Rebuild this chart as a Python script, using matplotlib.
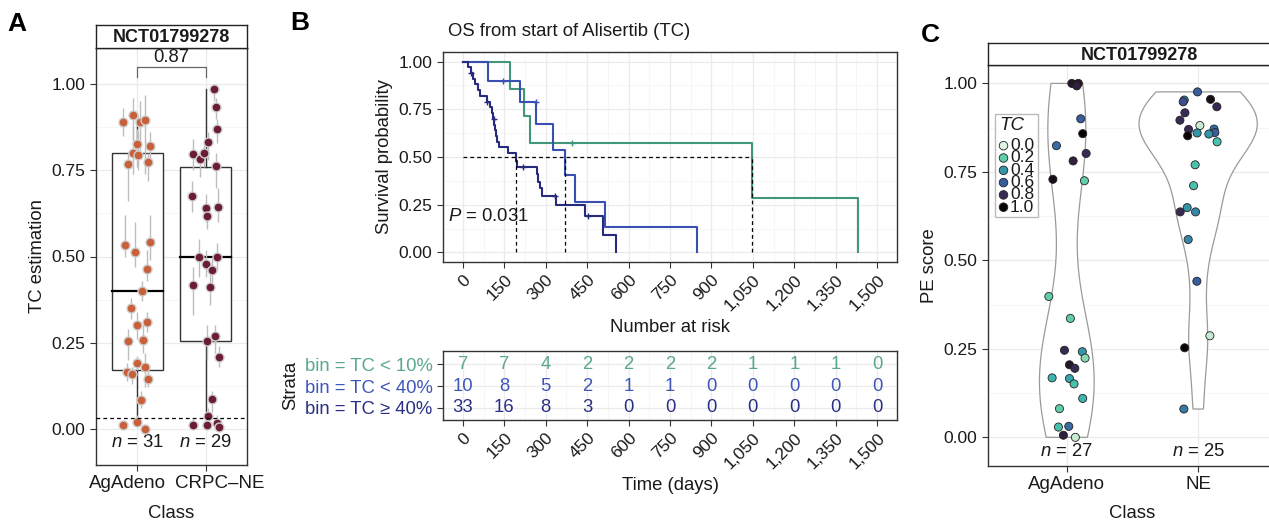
import numpy as np
import matplotlib
matplotlib.use('Agg')
import matplotlib.pyplot as plt
import matplotlib.transforms as mtransforms
import seaborn as sns
from matplotlib.patches import Rectangle

plt.rcParams['font.family'] = ['Liberation Sans', 'DejaVu Sans']
plt.rcParams['mathtext.fontset'] = 'custom'
plt.rcParams['mathtext.it'] = 'Liberation Sans:italic'
plt.rcParams['mathtext.rm'] = 'Liberation Sans'

# ---------------- panel A data ----------------
classes_a = ['AgAdeno', 'CRPC\u2013NE']
n_a = [31, 29]
ag_x = [0.797, 0.942, 1.043, 1.116, 1.0, 1.188, 0.942, 1.014, 1.159, 0.870,
        0.826, 0.971, 1.188, 1.145, 1.072, 0.913, 1.0, 1.145, 0.870, 1.087,
        1.0, 0.855, 0.928, 1.116, 1.159, 1.058, 1.0, 0.797, 1.116]
ag_y = [0.89, 0.911, 0.89, 0.897, 0.825, 0.82, 0.80, 0.794, 0.774, 0.767,
        0.532, 0.513, 0.542, 0.463, 0.40, 0.351, 0.30, 0.311, 0.256, 0.258,
        0.19, 0.166, 0.159, 0.178, 0.145, 0.084, 0.021, 0.012, 0.0]
ag_lo = [0.85, 0.84, 0.80, 0.74, 0.76, 0.78, 0.74, 0.75, 0.72, 0.66,
         0.50, 0.47, 0.49, 0.43, 0.37, 0.32, 0.26, 0.28, 0.20, 0.22,
         0.17, 0.14, 0.13, 0.12, 0.12, 0.06, 0.01, 0.0, 0.0]
ag_hi = [0.93, 0.96, 0.95, 0.97, 0.87, 0.86, 0.88, 0.86, 0.80, 0.80,
         0.62, 0.60, 0.62, 0.52, 0.43, 0.38, 0.34, 0.34, 0.29, 0.30,
         0.21, 0.19, 0.18, 0.22, 0.17, 0.11, 0.04, 0.02, 0.01]
ne_x = [2.116, 2.145, 2.159, 2.029, 1.812, 1.913, 1.971, 2.145, 1.797, 2.0,
        2.174, 2.014, 1.899, 2.159, 2.0, 2.087, 1.812, 2.058, 2.014, 2.130,
        2.188, 2.087, 2.029, 1.812, 2.014, 2.159, 2.188]
ne_y = [0.987, 0.935, 0.869, 0.832, 0.798, 0.782, 0.80, 0.762, 0.677, 0.642,
        0.644, 0.617, 0.50, 0.50, 0.478, 0.46, 0.417, 0.412, 0.255, 0.268,
        0.209, 0.087, 0.036, 0.01, 0.01, 0.018, 0.005]
ne_lo = [0.95, 0.90, 0.83, 0.78, 0.75, 0.73, 0.76, 0.70, 0.63, 0.60,
         0.60, 0.58, 0.44, 0.46, 0.44, 0.40, 0.33, 0.36, 0.20, 0.22,
         0.18, 0.05, 0.02, 0.0, 0.0, 0.0, 0.0]
ne_hi = [1.0, 0.96, 0.90, 0.86, 0.84, 0.81, 0.83, 0.80, 0.72, 0.68,
         0.70, 0.64, 0.55, 0.54, 0.52, 0.50, 0.47, 0.45, 0.30, 0.30,
         0.24, 0.11, 0.06, 0.03, 0.03, 0.04, 0.02]
box_q1 = [0.17, 0.255]
box_med = [0.40, 0.50]
box_q3 = [0.80, 0.76]
box_wlo = [0.02, 0.03]
box_whi = [0.91, 0.987]
p_value_a = '0.87'
cutoff_a = 0.03

# ---------------- panel B data ----------------
strata = ['bin = TC < 10%', 'bin = TC < 40%', 'bin = TC \u2265 40%']
km_t = [
    [0, 172, 220, 243, 1048, 1430],
    [0, 91, 206, 265, 327, 368, 406, 514, 847],
    [0, 19, 28, 35, 43.5, 53, 62, 86, 98, 104, 110, 113.5, 116, 119.6, 124.4,
     131.6, 164, 192, 197, 267, 273, 279, 285, 337, 442, 508, 553],
]
km_s = [
    [1.0, 0.857, 0.714, 0.571, 0.286, 0.0],
    [1.0, 0.90, 0.787, 0.674, 0.538, 0.408, 0.265, 0.133, 0.0],
    [1.0, 0.97, 0.94, 0.91, 0.88, 0.85, 0.82, 0.79, 0.76, 0.73, 0.70, 0.67,
     0.64, 0.61, 0.58, 0.55, 0.52, 0.48, 0.447, 0.41, 0.37, 0.335, 0.298,
     0.246, 0.19, 0.092, 0.0],
]
cens_t = [[396], [146, 263], [31, 86, 112, 216, 333, 454]]
risk_times = [0, 150, 300, 450, 600, 750, 900, 1050, 1200, 1350, 1500]
risk_n = [
    [7, 7, 4, 2, 2, 2, 2, 1, 1, 1, 0],
    [10, 8, 5, 2, 1, 1, 0, 0, 0, 0, 0],
    [33, 16, 8, 3, 0, 0, 0, 0, 0, 0, 0],
]
time_labels = ['0', '150', '300', '450', '600', '750', '900', '1,050', '1,200', '1,350', '1,500']
p_value_b = '0.031'

# ---------------- panel C data ----------------
classes_c = ['AgAdeno', 'NE']
n_c = [27, 25]
c_ag_x = [1.038, 1.071, 1.088, 1.076, 1.106, 1.121, 0.921, 1.147, 1.048, 0.894,
          1.134, 0.863, 1.027, 0.982, 1.118, 1.139, 1.020, 1.061, 0.888, 1.020,
          1.055, 1.121, 0.944, 0.936, 1.015, 0.974, 1.065]
c_ag_y = [1.0, 0.997, 1.0, 0.993, 0.90, 0.858, 0.824, 0.802, 0.781, 0.729,
          0.725, 0.398, 0.336, 0.246, 0.242, 0.224, 0.205, 0.195, 0.168, 0.166,
          0.151, 0.110, 0.081, 0.029, 0.031, 0.006, 0.0]
c_ag_tc = [0.9, 1.0, 0.9, 0.85, 0.6, 1.0, 0.55, 0.8, 0.85, 0.95,
           0.2, 0.2, 0.2, 0.8, 0.4, 0.15, 0.9, 0.8, 0.3, 0.35,
           0.25, 0.3, 0.2, 0.25, 0.55, 0.85, 0.05]
c_ne_x = [1.995, 1.894, 1.886, 2.094, 2.142, 1.899, 1.861, 2.013, 1.927, 2.121,
          2.127, 1.992, 2.081, 1.920, 2.144, 1.977, 1.965, 1.916, 1.863, 1.980,
          1.924, 1.990, 2.089, 1.897, 1.891]
c_ne_y = [0.976, 0.953, 0.948, 0.955, 0.934, 0.917, 0.896, 0.881, 0.87, 0.871,
          0.861, 0.86, 0.857, 0.852, 0.835, 0.77, 0.711, 0.649, 0.637, 0.637,
          0.559, 0.441, 0.287, 0.253, 0.08]
c_ne_tc = [0.6, 0.45, 0.65, 0.95, 0.8, 0.8, 0.8, 0.05, 0.8, 0.55,
           0.6, 0.4, 0.4, 1.0, 0.25, 0.25, 0.25, 0.4, 0.8, 0.45,
           0.45, 0.6, 0.05, 1.0, 0.5]
tc_levels = [0.0, 0.2, 0.4, 0.6, 0.8, 1.0]

W, H = 1269, 523
fig = plt.figure(figsize=(W / 100, H / 100), dpi=100)


def rect(l, t, r, b):
    return [l / W, 1 - b / H, (r - l) / W, (b - t) / H]


def px(x, y):
    return x / W, 1 - y / H


FS = 13.3      # titles / annotations
TICK = 12.5    # numeric tick labels
CAT = 13.5     # category tick labels
TXT = '#1a1a1a'
GRID = '#ebebeb'
GRID2 = '#f5f5f5'
green, blue, navy = '#40977a', '#3a4fb2', '#262b7e'
km_cols = [green, blue, navy]
risk_cols = ['#5aa88a', '#3e56b8', '#2a2f86']


def style_axes(ax):
    for s in ax.spines.values():
        s.set_color('#333333')
        s.set_linewidth(1.0)
    ax.tick_params(labelsize=TICK, colors='#333333', labelcolor=TXT, length=4, width=0.8)


def shift_labels(ax, offsets_px):
    for lab, dx in zip(ax.get_xticklabels(), offsets_px):
        lab.set_transform(lab.get_transform() +
                          mtransforms.ScaledTranslation(dx / 100, 0, fig.dpi_scale_trans))


def strip(l, t, r, b, label):
    s = fig.add_axes(rect(l, t, r, b))
    s.set_xticks([])
    s.set_yticks([])
    for sp in s.spines.values():
        sp.set_color('#222222')
        sp.set_linewidth(1.0)
    s.text(0.5, 0.45, label, ha='center', va='center', fontsize=13,
           fontweight='bold', transform=s.transAxes, color=TXT)
    return s


# ================= panel A =================
axA = fig.add_axes(rect(96, 48, 247, 465))
axA.set_xlim(0.4, 2.6)
axA.set_ylim(-0.105, 1.105)
for v in [0.125, 0.375, 0.625, 0.875]:
    axA.axhline(v, color=GRID2, lw=0.6, zorder=0)
for v in [0, 0.25, 0.5, 0.75, 1.0]:
    axA.axhline(v, color=GRID, lw=0.9, zorder=0)
for v in [1, 2]:
    axA.axvline(v, color=GRID, lw=0.9, zorder=0)

for i in range(2):
    c = i + 1
    axA.add_patch(Rectangle((c - 0.37, box_q1[i]), 0.74, box_q3[i] - box_q1[i],
                            facecolor='white', edgecolor='#333333', lw=1.0, zorder=1))
    axA.plot([c - 0.37, c + 0.37], [box_med[i], box_med[i]], color='black', lw=1.6, zorder=2)
    axA.plot([c, c], [box_q1[i], box_wlo[i]], color='#333333', lw=1.0, zorder=1)
    axA.plot([c, c], [box_q3[i], box_whi[i]], color='#333333', lw=1.0, zorder=1)

axA.vlines(ag_x, ag_lo, ag_hi, color='#bdbdbd', lw=1.0, zorder=3)
axA.vlines(ne_x, ne_lo, ne_hi, color='#bdbdbd', lw=1.0, zorder=3)
axA.scatter(ag_x, ag_y, s=42, color='#c8613a', edgecolor='#cfcfcf', lw=1.0, zorder=4)
axA.scatter(ne_x, ne_y, s=42, color='#6b1d33', edgecolor='#cfcfcf', lw=1.0, zorder=4)
axA.axhline(cutoff_a, color='black', ls=(0, (3, 2.5)), lw=0.9, zorder=5)

axA.plot([1, 1, 2, 2], [1.02, 1.05, 1.05, 1.02], color='#666666', lw=0.9)
axA.text(1.5, 1.053, p_value_a, ha='center', va='bottom', fontsize=FS, color=TXT)
for i in range(2):
    axA.text(i + 1, -0.04, '$n$ = %d' % n_a[i], ha='center', va='center', fontsize=FS, color=TXT)

axA.set_yticks([0, 0.25, 0.5, 0.75, 1.0])
axA.set_yticklabels(['0.00', '0.25', '0.50', '0.75', '1.00'])
axA.set_xticks([1, 2])
axA.set_xticklabels(classes_a)
axA.set_ylabel('TC estimation', fontsize=FS, color=TXT)
axA.set_xlabel('Class', fontsize=FS, color=TXT, labelpad=9)
style_axes(axA)
axA.tick_params(axis='x', labelsize=CAT)
shift_labels(axA, [-10, 14])
strip(96, 25, 247, 48, 'NCT01799278')

# ================= panel B =================
axB = fig.add_axes(rect(443, 52, 897, 262))
axB.set_xlim(-72, 1572)
axB.set_ylim(-0.05, 1.05)
for v in np.arange(75, 1572, 150):
    axB.axvline(v, color=GRID2, lw=0.6, zorder=0)
for v in [0.125, 0.375, 0.625, 0.875]:
    axB.axhline(v, color=GRID2, lw=0.6, zorder=0)
for v in risk_times:
    axB.axvline(v, color=GRID, lw=0.9, zorder=0)
for v in [0, 0.25, 0.5, 0.75, 1.0]:
    axB.axhline(v, color=GRID, lw=0.9, zorder=0)

medians = []
for k in range(3):
    t = np.array(km_t[k], dtype=float)
    s = np.array(km_s[k], dtype=float)
    axB.step(t, s, where='post', color=km_cols[k], lw=1.5, zorder=3)
    ct = np.array(cens_t[k], dtype=float)
    cs = s[np.searchsorted(t, ct, side='right') - 1]
    axB.plot(ct, cs, '+', color=km_cols[k], ms=5, mew=1.0, zorder=4)
    medians.append(t[np.argmax(s <= 0.5)])

axB.plot([0, max(medians)], [0.5, 0.5], color='black', ls=(0, (3, 2.5)), lw=0.9, zorder=5)
for m in medians:
    axB.plot([m, m], [0, 0.5], color='black', ls=(0, (3, 2.5)), lw=0.9, zorder=5)
axB.text(-55, 0.19, '$P$ = ' + p_value_b, ha='left', va='center', fontsize=FS, color=TXT)

axB.set_yticks([0, 0.25, 0.5, 0.75, 1.0])
axB.set_yticklabels(['0.00', '0.25', '0.50', '0.75', '1.00'])
axB.set_xticks(risk_times)
axB.set_xticklabels(time_labels, rotation=45, ha='right', va='top', rotation_mode='anchor')
axB.set_ylabel('Survival probability', fontsize=FS, color=TXT)
axB.set_xlabel('Number at risk', fontsize=FS, color=TXT)
axB.text(0.011, 1.055, 'OS from start of Alisertib (TC)', fontsize=FS, ha='left', va='bottom',
         color=TXT, transform=axB.transAxes)
style_axes(axB)

# risk table
axR = fig.add_axes(rect(443, 351, 897, 420))
axR.set_xlim(-72, 1572)
axR.set_ylim(0.45, 3.6)
for v in np.arange(75, 1572, 150):
    axR.axvline(v, color=GRID2, lw=0.6, zorder=0)
for v in risk_times:
    axR.axvline(v, color=GRID, lw=0.9, zorder=0)
for k in range(3):
    row = 3 - k
    axR.axhline(row, color=GRID, lw=0.9, zorder=0)
    for t, n in zip(risk_times, risk_n[k]):
        axR.text(t, row, str(n), ha='center', va='center', fontsize=FS, color=risk_cols[k])
axR.set_yticks([3, 2, 1])
axR.set_yticklabels(strata)
axR.set_xticks(risk_times)
axR.set_xticklabels(time_labels, rotation=45, ha='right', va='top', rotation_mode='anchor')
axR.set_ylabel('Strata', fontsize=FS, color=TXT)
axR.set_xlabel('Time (days)', fontsize=FS, color=TXT)
style_axes(axR)
axR.tick_params(axis='y', labelsize=13.3)
for lab, col in zip(axR.get_yticklabels(), risk_cols):
    lab.set_color(col)

# ================= panel C =================
cmap = sns.color_palette('mako_r', as_cmap=True)
axC = fig.add_axes(rect(988, 65, 1277, 466))
axC.set_xlim(0.4, 2.6)
axC.set_ylim(-0.081, 1.052)
for v in [0.125, 0.375, 0.625, 0.875]:
    axC.axhline(v, color=GRID2, lw=0.6, zorder=0)
for v in [0, 0.25, 0.5, 0.75, 1.0]:
    axC.axhline(v, color=GRID, lw=0.9, zorder=0)
for v in [1, 2]:
    axC.axvline(v, color=GRID, lw=0.9, zorder=0)


def kde(vals):
    vals = np.asarray(vals, dtype=float)
    n = len(vals)
    sd = vals.std(ddof=1)
    iqr = np.subtract(*np.percentile(vals, [75, 25]))
    bw = 0.9 * min(sd, iqr / 1.34) * n ** -0.2
    ys = np.linspace(vals.min(), vals.max(), 300)
    d = np.exp(-0.5 * ((ys[:, None] - vals[None, :]) / bw) ** 2).sum(1) / (n * bw * np.sqrt(2 * np.pi))
    return ys, d


dens = [kde(c_ag_y), kde(c_ne_y)]
dmax = max(d.max() for _, d in dens)
for i, (ys, d) in enumerate(dens):
    w = 0.45 * d / dmax
    c = i + 1
    xs = np.concatenate([c - w, (c + w)[::-1], [c - w[0]]])
    yy = np.concatenate([ys, ys[::-1], [ys[0]]])
    axC.fill(xs, yy, facecolor='white', edgecolor='#9a9a9a', lw=0.9, zorder=1)

axC.scatter(c_ag_x, c_ag_y, c=c_ag_tc, cmap=cmap, vmin=0, vmax=1, s=34,
            edgecolor='#222222', lw=0.6, zorder=3)
axC.scatter(c_ne_x, c_ne_y, c=c_ne_tc, cmap=cmap, vmin=0, vmax=1, s=34,
            edgecolor='#222222', lw=0.6, zorder=3)
for i in range(2):
    axC.text(i + 1, -0.041, '$n$ = %d' % n_c[i], ha='center', va='center', fontsize=FS, color=TXT)

axC.set_yticks([0, 0.25, 0.5, 0.75, 1.0])
axC.set_yticklabels(['0.00', '0.25', '0.50', '0.75', '1.00'])
axC.set_xticks([1, 2])
axC.set_xticklabels(classes_c)
axC.set_ylabel('PE score', fontsize=FS, color=TXT)
axC.set_xlabel('Class', fontsize=FS, color=TXT, labelpad=8)
style_axes(axC)
axC.tick_params(axis='x', labelsize=CAT)

# TC legend (compact, drawn in figure pixels)
fig.patches.append(Rectangle(px(995, 217), 43 / W, 103 / H, transform=fig.transFigure,
                             facecolor='white', edgecolor='#bbbbbb', lw=1.0, zorder=5))
fig.text(*px(999, 126), 'TC', fontsize=13.5, style='italic', va='center', ha='left',
         color=TXT, zorder=6)
leg_y = [145.7 + 12.3 * i for i in range(len(tc_levels))]
lx, ly = zip(*[px(1003.5, y) for y in leg_y])
legax = fig.add_axes([0, 0, 1, 1], facecolor='none', zorder=6)
legax.set_xlim(0, 1)
legax.set_ylim(0, 1)
legax.axis('off')
legax.scatter(lx, ly, c=tc_levels, cmap=cmap, vmin=0, vmax=1, s=38,
              edgecolor='#222222', lw=0.6)
for v, y in zip(tc_levels, ly):
    legax.text(1010 / W, y, '%.1f' % v, fontsize=12.5, va='center', ha='left', color=TXT)
strip(988, 43, 1290, 65, 'NCT01799278')

# panel letters
fig.text(7 / W, 1 - 24 / H, 'A', fontsize=19, fontweight='bold', va='center', ha='left')
fig.text(290 / W, 1 - 23 / H, 'B', fontsize=19, fontweight='bold', va='center', ha='left')
fig.text(921 / W, 1 - 35 / H, 'C', fontsize=19, fontweight='bold', va='center', ha='left')

fig.savefig('out.png', dpi=100)
